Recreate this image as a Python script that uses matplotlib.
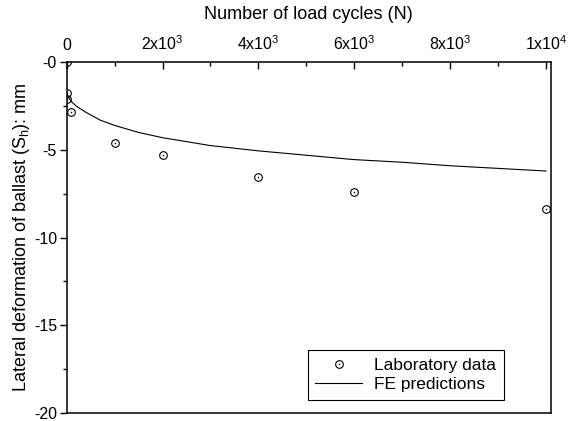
import matplotlib
matplotlib.use("Agg")
import matplotlib.pyplot as plt
from matplotlib.ticker import FixedLocator, FixedFormatter, MultipleLocator
from matplotlib.lines import Line2D

plt.rcParams['font.family'] = ['Liberation Sans', 'DejaVu Sans']
plt.rcParams['mathtext.fontset'] = 'custom'
plt.rcParams['mathtext.rm'] = 'Liberation Sans'
plt.rcParams['mathtext.it'] = 'Liberation Sans'
plt.rcParams['mathtext.bf'] = 'Liberation Sans'

# Laboratory data
lab_N = [0, 1, 10, 100, 1000, 2000, 4000, 6000, 10000]
lab_S = [0, -1.75, -2.1, -2.85, -4.6, -5.3, -6.55, -7.38, -8.36]

# FE predictions
fe_N = [0, 50, 100, 200, 400, 700, 1000, 1500, 2000, 3000, 4000, 5000,
        6000, 7000, 8000, 9000, 10000]
fe_S = [-1.8, -2.05, -2.25, -2.5, -2.85, -3.3, -3.6, -4.0, -4.3, -4.75,
        -5.05, -5.3, -5.55, -5.7, -5.9, -6.05, -6.2]

x_ticks = [0, 2000, 4000, 6000, 8000, 10000]
x_labels = ["0", "2x10$^3$", "4x10$^3$", "6x10$^3$", "8x10$^3$", "1x10$^4$"]
y_ticks = [0, -5, -10, -15, -20]
y_labels = ["-0", "-5", "-10", "-15", "-20"]

fig = plt.figure(figsize=(5.71, 4.21), dpi=100)
ax = fig.add_axes([66.7/571, 1-413/421, (550.7-66.7)/571, (413-62.3)/421])

ax.plot(fe_N, fe_S, color='black', lw=0.8)
ax.plot(lab_N, lab_S, linestyle='none', marker='o', ms=5.5, mfc='none',
        mec='black', mew=0.8)
ax.plot(lab_N, lab_S, linestyle='none', marker='o', ms=0.8, mfc='black',
        mec='black', mew=0.3)

ax.set_xlim(0, 10098)
ax.set_ylim(-20, 0)

ax.xaxis.tick_top()
ax.xaxis.set_label_position('top')
ax.xaxis.set_major_locator(FixedLocator(x_ticks))
ax.xaxis.set_major_formatter(FixedFormatter(x_labels))
ax.xaxis.set_minor_locator(MultipleLocator(1000))
ax.yaxis.set_major_locator(FixedLocator(y_ticks))
ax.yaxis.set_major_formatter(FixedFormatter(y_labels))
ax.yaxis.set_minor_locator(MultipleLocator(2.5))

ax.tick_params(axis='x', which='major', direction='in', length=5, width=1.0,
               labelsize=11.5, pad=7, top=True, bottom=False)
ax.tick_params(axis='x', which='minor', direction='in', length=3, width=1.0,
               top=True, bottom=False)
ax.tick_params(axis='y', which='major', direction='out', length=5, width=1.0,
               labelsize=11.5, pad=2, left=True, right=False)
ax.tick_params(axis='y', which='minor', direction='out', length=3, width=1.0,
               left=True, right=False)

for s in ax.spines.values():
    s.set_linewidth(1.1)

ax.set_xlabel("Number of load cycles (N)", fontsize=13, labelpad=11)
ax.set_ylabel("Lateral deformation of ballast (S$_h$): mm", fontsize=13, labelpad=1)

h_circ = Line2D([], [], linestyle='none', marker='o', ms=5.5, mfc='none',
                mec='black', mew=0.8)
h_dot = Line2D([], [], linestyle='none', marker='o', ms=0.8, mfc='black',
               mec='black', mew=0.3)
h_line = Line2D([], [], color='black', lw=0.8)
leg = ax.legend([(h_circ, h_dot), h_line], ["Laboratory data", "FE predictions"],
                loc='lower right', bbox_to_anchor=(0.904, 0.037),
                borderaxespad=0, fontsize=12.5, fancybox=False, framealpha=1,
                edgecolor='black', handlelength=2.7, handletextpad=0.7,
                borderpad=0.45, labelspacing=0.22)
leg.get_frame().set_linewidth(0.8)

fig.savefig("out.png", dpi=100)
